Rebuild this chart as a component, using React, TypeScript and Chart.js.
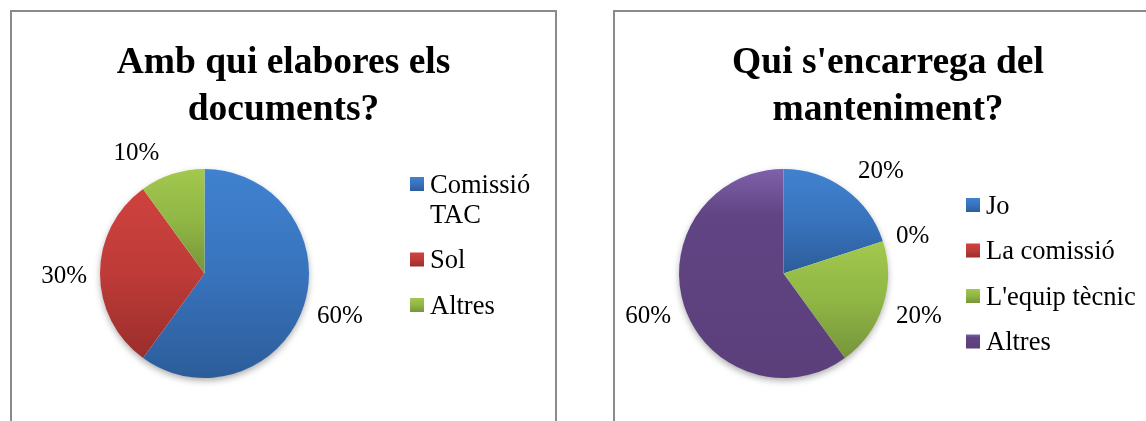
import React, { useEffect, useRef } from 'react';
import { Chart, registerables } from 'chart.js';

Chart.register(...registerables);

// ---------- data ----------
const leftTitle = ['Amb qui elabores els', 'documents?'];
const leftCategories = ['Comissió TAC', 'Sol', 'Altres'];
const leftValues = [60, 30, 10];
const leftColorKeys = ['blue', 'red', 'green'];

const rightTitle = ["Qui s'encarrega del", 'manteniment?'];
const rightCategories = ['Jo', 'La comissió', "L'equip tècnic", 'Altres'];
const rightValues = [20, 0, 20, 60];
const rightColorKeys = ['blue', 'red', 'green', 'purple'];

// ---------- styles ----------
const FONT = "'Liberation Serif', 'Times New Roman', serif";
const PALETTE: Record<string, [string, string, number, string]> = {
  blue: ['#4082d0', '#3873bd', 0.5, '#2c5d99'],
  red: ['#cf423e', '#be3b38', 0.5, '#9a2e2b'],
  green: ['#a2c84e', '#90b645', 0.5, '#76953a'],
  purple: ['#7f61ab', '#614483', 0.22, '#5b3f7b'],
};

type Cfg = {
  title: string[];
  labels: string[];
  values: number[];
  colorKeys: string[];
  width: number;
  height: number;
  padding: { left: number; right: number; top: number; bottom: number };
  legend: { squareX: number; textX: number; firstY: number };
};

function sliceGradient(ctx: CanvasRenderingContext2D, key: string, y0: number, y1: number) {
  const p = PALETTE[key];
  if (!(y1 > y0)) return p[1];
  const g = ctx.createLinearGradient(0, y0, 0, y1);
  g.addColorStop(0, p[0]);
  g.addColorStop(p[2], p[1]);
  g.addColorStop(1, p[3]);
  return g;
}

function wrapText(ctx: CanvasRenderingContext2D, text: string, maxWidth: number) {
  const words = text.split(' ');
  const lines: string[] = [];
  let cur = '';
  for (const w of words) {
    const test = cur ? cur + ' ' + w : w;
    if (cur && ctx.measureText(test).width > maxWidth) {
      lines.push(cur);
      cur = w;
    } else cur = test;
  }
  if (cur) lines.push(cur);
  return lines;
}

function PieChart({ cfg }: { cfg: Cfg }) {
  const ref = useRef<HTMLCanvasElement | null>(null);
  useEffect(() => {
    const canvas = ref.current!;
    const total = cfg.values.reduce((a, b) => a + b, 0);

    const bgColor = (c: any) => {
      const chart = c.chart;
      const area = chart.chartArea;
      const key = cfg.colorKeys[c.dataIndex];
      if (!area) return PALETTE[key][1];
      const cy = (area.top + area.bottom) / 2;
      const r = Math.min(area.right - area.left, area.bottom - area.top) / 2;
      let cum = 0;
      for (let i = 0; i < c.dataIndex; i++) cum += cfg.values[i];
      const a0 = -Math.PI / 2 + (cum / total) * Math.PI * 2;
      const a1 = a0 + (cfg.values[c.dataIndex] / total) * Math.PI * 2;
      const ys = [cy, cy + r * Math.sin(a0), cy + r * Math.sin(a1)];
      for (const t of [-Math.PI / 2, Math.PI / 2, (3 * Math.PI) / 2]) {
        if (t >= a0 && t <= a1) ys.push(cy + r * Math.sin(t));
      }
      return sliceGradient(chart.ctx, key, Math.min(...ys), Math.max(...ys));
    };

    const shadowPlugin = {
      id: 'pieShadow',
      beforeDatasetsDraw(chart: any) {
        const arc = chart.getDatasetMeta(0).data[0];
        if (!arc) return;
        const ctx = chart.ctx;
        ctx.save();
        ctx.shadowColor = 'rgba(0,0,0,0.35)';
        ctx.shadowBlur = 7;
        ctx.shadowOffsetY = 3;
        ctx.fillStyle = '#ffffff';
        ctx.beginPath();
        ctx.arc(arc.x, arc.y, arc.outerRadius - 0.5, 0, Math.PI * 2);
        ctx.fill();
        ctx.restore();
      },
    };

    // "best fit"-like outside labels: pushed sideways out of the pie,
    // vertically following the slice's mid angle
    const labelPlugin = {
      id: 'pctLabels',
      afterDatasetsDraw(chart: any) {
        const ctx = chart.ctx;
        const meta = chart.getDatasetMeta(0);
        ctx.save();
        ctx.font = `25px ${FONT}`;
        ctx.fillStyle = '#000';
        ctx.textAlign = 'center';
        ctx.textBaseline = 'middle';
        meta.data.forEach((arc: any, i: number) => {
          const mid = (arc.startAngle + arc.endAngle) / 2;
          const dx = Math.cos(mid);
          const dy = Math.sin(mid);
          const txt = Math.round((cfg.values[i] / total) * 100) + '%';
          const w = ctx.measureText(txt).width;
          const ex = arc.x + dx * arc.outerRadius;
          const ey = arc.y + dy * arc.outerRadius;
          const sx = dx >= 0 ? 1 : -1;
          ctx.fillText(txt, ex + sx * (w / 2 + 13), ey + dy * 25 + 3);
        });
        ctx.restore();
      },
    };

    const titlePlugin = {
      id: 'boxTitle',
      afterDraw(chart: any) {
        const ctx = chart.ctx;
        ctx.save();
        ctx.font = `bold 37.5px ${FONT}`;
        ctx.fillStyle = '#000';
        ctx.textAlign = 'center';
        ctx.textBaseline = 'alphabetic';
        cfg.title.forEach((line, i) => ctx.fillText(line, chart.width / 2, 61 + i * 47));
        ctx.restore();
      },
    };

    const legendPlugin = {
      id: 'sideLegend',
      afterDraw(chart: any) {
        const ctx = chart.ctx;
        const L = cfg.legend;
        ctx.save();
        ctx.font = `26.5px ${FONT}`;
        ctx.textAlign = 'left';
        ctx.textBaseline = 'middle';
        let y = L.firstY;
        const maxW = chart.width - L.textX - 8;
        cfg.labels.forEach((label, i) => {
          const key = cfg.colorKeys[i];
          ctx.fillStyle = sliceGradient(ctx, key, y - 7, y + 7);
          ctx.fillRect(L.squareX, y - 7, 14, 14);
          ctx.fillStyle = '#000';
          const lines = wrapText(ctx, label, maxW);
          lines.forEach((ln, j) => ctx.fillText(ln, L.textX, y + 2 + j * 30));
          y += (lines.length - 1) * 30 + 45.5;
        });
        ctx.restore();
      },
    };

    const chart = new Chart(canvas, {
      type: 'pie',
      data: {
        labels: cfg.labels,
        datasets: [
          {
            data: cfg.values,
            backgroundColor: bgColor as any,
            borderWidth: 0,
            hoverOffset: 0,
            offset: 0,
          },
        ],
      },
      options: {
        responsive: false,
        animation: false,
        devicePixelRatio: 1,
        layout: { padding: cfg.padding },
        plugins: {
          legend: { display: false },
          title: { display: false },
          tooltip: { enabled: false },
        },
        events: [],
      },
      plugins: [shadowPlugin, labelPlugin, titlePlugin, legendPlugin],
    });
    return () => chart.destroy();
  }, [cfg]);
  return <canvas ref={ref} width={cfg.width} height={cfg.height} style={{ display: 'block', width: cfg.width, height: cfg.height }} />;
}

const leftCfg: Cfg = {
  title: leftTitle,
  labels: leftCategories,
  values: leftValues,
  colorKeys: leftColorKeys,
  width: 543,
  height: 420,
  padding: { left: 88, right: 246, top: 157, bottom: 54 },
  legend: { squareX: 398, textX: 418, firstY: 172 },
};

const rightCfg: Cfg = {
  title: rightTitle,
  labels: rightCategories,
  values: rightValues,
  colorKeys: rightColorKeys,
  width: 546,
  height: 420,
  padding: { left: 64, right: 273, top: 157, bottom: 54 },
  legend: { squareX: 351, textX: 371, firstY: 193 },
};

export default function App() {
  const boxStyle = (left: number, width: number): React.CSSProperties => ({
    position: 'absolute',
    left,
    top: 10,
    width,
    height: 420,
    border: '2px solid #8a8a8a',
    background: '#fff',
  });
  return (
    <div style={{ position: 'fixed', left: 0, top: 0, width: 1146, height: 421, overflow: 'hidden', background: '#fff' }}>
      <div style={boxStyle(10, 543)}>
        <PieChart cfg={leftCfg} />
      </div>
      <div style={boxStyle(613, 546)}>
        <PieChart cfg={rightCfg} />
      </div>
    </div>
  );
}
